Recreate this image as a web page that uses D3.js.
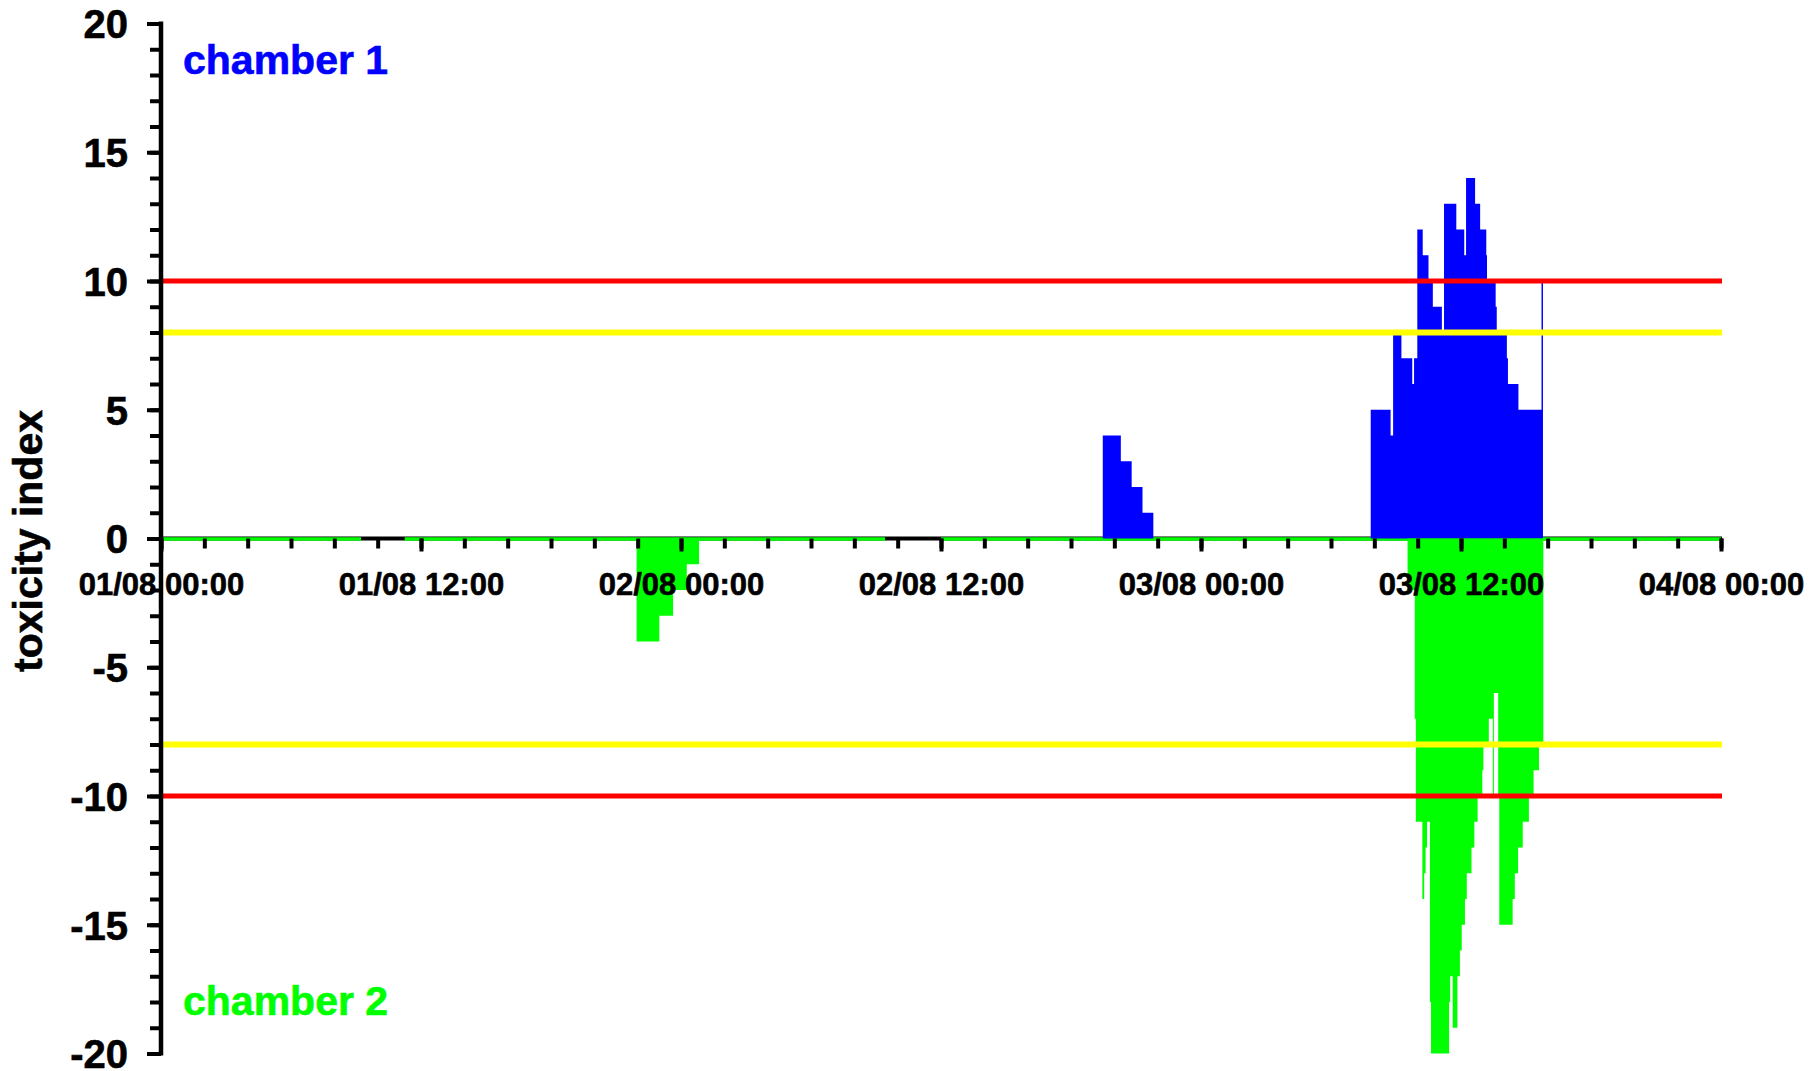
<!DOCTYPE html>
<html><head><meta charset="utf-8">
<script src="https://cdn.jsdelivr.net/npm/d3@7"></script>
<style>
body{margin:0;background:#fff;}
svg{display:block;background:#fff;font-family:"Liberation Sans",Arial,Helvetica,sans-serif;font-weight:bold;}
</style></head><body>
<svg id="chart" width="1817" height="1071"></svg>
<script>
// ---- data ----
const domainStart = "01/08 00:00";
const domainEnd = "04/08 00:00";
const xTickLabels = ["01/08 00:00","01/08 12:00","02/08 00:00","02/08 12:00","03/08 00:00","03/08 12:00","04/08 00:00"];
const yTicksMajor = [-20,-15,-10,-5,0,5,10,15,20];
const limitRed = [10, -10];
const limitYellow = [8, -8];
const seriesNames = ["chamber 1", "chamber 2"];

// chamber 1: each value holds from its time until the next time
const ch1Time = [
 "02/08 19:28","02/08 20:18","02/08 20:48","02/08 21:18","02/08 21:48",
 "03/08 07:50","03/08 08:45","03/08 08:52","03/08 09:15","03/08 09:45","03/08 09:50",
 "03/08 09:59","03/08 10:14","03/08 10:30","03/08 10:42","03/08 11:07","03/08 11:13",
 "03/08 11:47","03/08 12:09","03/08 12:14","03/08 12:39","03/08 12:53","03/08 13:10",
 "03/08 13:12","03/08 13:36","03/08 13:39","03/08 14:07","03/08 14:10","03/08 14:39",
 "03/08 15:43","03/08 15:47"];
const ch1Value = [
 4,3,2,1,0,
 5,4,8,7,6,7,
 12,11,10,9,8,13,
 12,11,14,13,12,11,
 10,9,8,7,6,5,
 10,0];

// chamber 2 (plotted downward)
const ch2Time = [
 "01/08 21:57","01/08 23:00","01/08 23:38","02/08 00:16","02/08 00:50",
 "03/08 09:32","03/08 09:52","03/08 09:55","03/08 10:13","03/08 10:18","03/08 10:22",
 "03/08 10:26","03/08 10:34","03/08 10:37","03/08 11:27","03/08 11:30","03/08 11:37",
 "03/08 11:50","03/08 11:57","03/08 12:02","03/08 12:11","03/08 12:16","03/08 12:29",
 "03/08 12:37","03/08 12:46","03/08 12:59","03/08 13:02","03/08 13:17","03/08 13:28",
 "03/08 13:31","03/08 13:43","03/08 13:46","03/08 14:23","03/08 14:29","03/08 14:38",
 "03/08 14:51","03/08 15:08","03/08 15:21","03/08 15:36","03/08 15:48"];
const ch2Value = [
 -4,-3,-2,-1,0,
 -2,-7,-11,-14,-13,-12,
 -11,-18,-20,-18,-17,-19,
 -17,-16,-15,-14,-13,-12,
 -11,-10,-9,-8,-7,-10,
 -6,-10,-15,-14,-13,-12,
 -11,-10,-9,-8,0];

// zero-reading line of chamber 2 (with data gaps)
const ch2LineStart = ["01/08 00:00","01/08 11:15","02/08 12:00"];
const ch2LineEnd   = ["01/08 09:14","02/08 09:25","04/08 00:00"];

// ---- chart ----
const parse = d3.utcParse("%d/%m %H:%M");
const fmt = d3.utcFormat("%d/%m %H:%M");
const svg = d3.select("#chart");
const x = d3.scaleUtc().domain([parse(domainStart), parse(domainEnd)]).range([161, 1721]);
const y = d3.scaleLinear().domain([-20, 20]).range([1053.5, 23.5]);
const font = '"Liberation Sans",Arial,Helvetica,sans-serif';

// x axis base line (black)
svg.append("line").attr("x1", x.range()[0]).attr("x2", x.range()[1] + 1)
  .attr("y1", y(0)).attr("y2", y(0)).attr("stroke", "#000").attr("stroke-width", 4);

// chamber 2 zero line (green)
ch2LineStart.forEach((s, i) => {
  svg.append("line").attr("x1", x(parse(s))).attr("x2", x(parse(ch2LineEnd[i])))
    .attr("y1", y(0) + 0.5).attr("y2", y(0) + 0.5)
    .attr("stroke", "#00ff00").attr("stroke-width", 3.5);
});

const area = d3.area().curve(d3.curveStepAfter)
  .x(d => x(d.t)).y0(y(0)).y1(d => y(d.v));
const ch1 = ch1Time.map((t, i) => ({t: parse(t), v: ch1Value[i]}));
const ch2 = ch2Time.map((t, i) => ({t: parse(t), v: ch2Value[i]}));
svg.append("path").datum(ch1).attr("d", area).attr("fill", "#0000ff");
svg.append("path").datum(ch2).attr("d", area).attr("fill", "#00ff00");

// limit lines
limitYellow.forEach(v => svg.append("line").attr("x1", x.range()[0]).attr("x2", x.range()[1] + 1)
  .attr("y1", y(v)).attr("y2", y(v)).attr("stroke", "#ffff00").attr("stroke-width", 6));
limitRed.forEach(v => svg.append("line").attr("x1", x.range()[0]).attr("x2", x.range()[1] + 1)
  .attr("y1", y(v)).attr("y2", y(v)).attr("stroke", "#ff0000").attr("stroke-width", 5));

// x axis ticks
const x0 = parse(domainStart), x1 = parse(domainEnd);
const minorX = d3.utcHour.every(2).range(x0, x1).concat([x1]);
const gxMinor = svg.append("g").attr("transform", `translate(0,${y(0)})`)
  .call(d3.axisBottom(x).tickValues(minorX).tickSize(10).tickFormat(""));
const gxMajor = svg.append("g").attr("transform", `translate(0,${y(0)})`)
  .call(d3.axisBottom(x).tickValues(xTickLabels.map(parse)).tickSize(13).tickPadding(21).tickFormat(fmt));
[gxMinor, gxMajor].forEach(g => {
  g.select(".domain").remove();
  g.selectAll(".tick line").attr("stroke", "#000").attr("stroke-width", 4);
});
gxMajor.selectAll(".tick text").attr("font-family", font).attr("font-weight", "bold")
  .attr("font-size", 31).attr("fill", "#000")
  .attr("stroke", "#000").attr("stroke-width", 0.6);

// y axis
const gyMinor = svg.append("g").attr("transform", `translate(${x.range()[0]},0)`)
  .call(d3.axisLeft(y).tickValues(d3.range(-20, 21, 1)).tickSize(11).tickFormat(""));
const gyMajor = svg.append("g").attr("transform", `translate(${x.range()[0]},0)`)
  .call(d3.axisLeft(y).tickValues(yTicksMajor).tickSize(14).tickPadding(19).tickFormat(d => String(d)));
[gyMinor, gyMajor].forEach(g => {
  g.select(".domain").remove();
  g.selectAll(".tick line").attr("stroke", "#000").attr("stroke-width", 4);
});
gyMajor.selectAll(".tick text").attr("font-family", font).attr("font-weight", "bold")
  .attr("font-size", 40).attr("fill", "#000").attr("dy", "0.36em")
  .attr("stroke", "#000").attr("stroke-width", 0.6);
svg.append("line").attr("x1", x.range()[0]).attr("x2", x.range()[0])
  .attr("y1", y(20) - 2).attr("y2", y(-20) + 2).attr("stroke", "#000").attr("stroke-width", 4.5);

// labels
svg.append("text").attr("x", 183).attr("y", 74).attr("fill", "#0000ff")
  .attr("stroke", "#0000ff").attr("stroke-width", 0.6)
  .attr("font-size", 41).text(seriesNames[0]);
svg.append("text").attr("x", 183).attr("y", 1015).attr("fill", "#00ff00")
  .attr("stroke", "#00ff00").attr("stroke-width", 0.6)
  .attr("font-size", 41).text(seriesNames[1]);
svg.append("text").attr("transform", "translate(42,541) rotate(-90)")
  .attr("text-anchor", "middle").attr("font-size", 41).attr("fill", "#000")
  .attr("stroke", "#000").attr("stroke-width", 0.6).text("toxicity index");
</script>
</body></html>
